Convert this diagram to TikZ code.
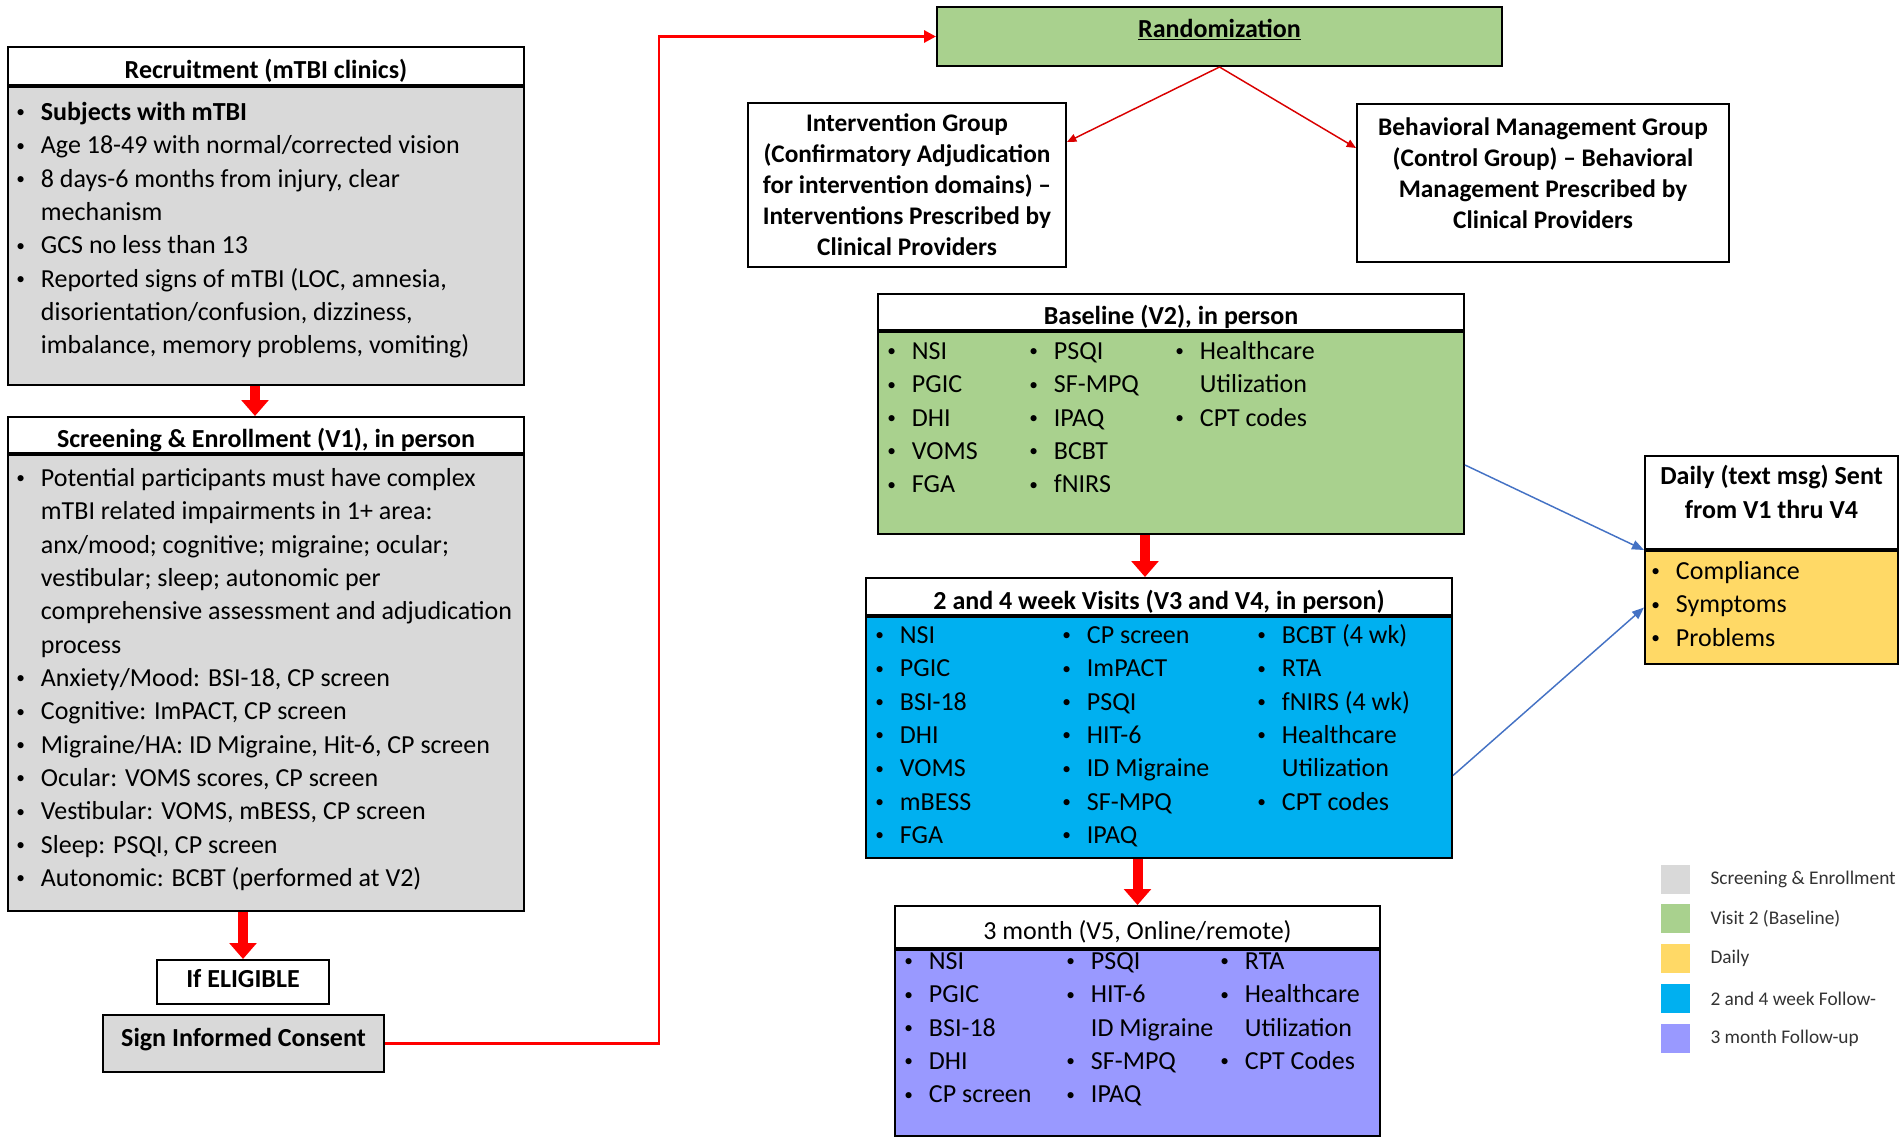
\documentclass[tikz,border=0pt]{standalone}
\usepackage{fontspec}
\setmainfont{Carlito}
\usepackage{xcolor}
\usepackage{tikz}
\usetikzlibrary{arrows.meta, positioning}
\definecolor{grayfill}{HTML}{D9D9D9}
\definecolor{greenfill}{HTML}{A9D18E}
\definecolor{yellowfill}{HTML}{FFD966}
\definecolor{bluefill}{HTML}{00B0F0}
\definecolor{purplefill}{HTML}{9999FF}
\definecolor{linkblue}{HTML}{4472C4}
\newdimen\px \px=0.75pt
\newcommand{\bodyfont}{\fontsize{19.5}{25}\selectfont}
\newcommand{\grpfont}{\fontsize{19}{23.3}\selectfont}
\newcommand{\legfont}{\fontsize{14.5}{17}\selectfont}
\newcommand{\itm}{\makebox[18.5pt][l]{\raisebox{2pt}{\fontsize{13}{13}\selectfont\textbullet}}}
\newcommand{\cnt}{\hspace*{18.5pt}}
\tikzset{
    boxhead/.style={
        rectangle,
        draw=black,
        line width=1.5pt,
        fill=white,
        inner sep=0pt,
        font=\bodyfont\bfseries
    },
    sechead/.style={
        boxhead,
        text height=19pt,
        text depth=0pt
    },
    boxbody/.style={
        rectangle,
        draw=black,
        line width=1.5pt,
        inner sep=0pt
    },
    listtext/.style={
        anchor=north west,
        inner sep=0pt,
        align=left,
        font=\bodyfont
    },
    grpbox/.style={
        rectangle,
        draw=black,
        line width=1.5pt,
        fill=white,
        align=center,
        inner sep=0pt,
        font=\grpfont\bfseries
    },
    legsq/.style={
        rectangle,
        minimum size=29\px,
        inner sep=0pt
    },
    legtext/.style={
        anchor=west,
        inner sep=0pt,
        text=black!80,
        font=\legfont
    },
    bigred/.style={
        draw=red,
        line width=7.5pt,
        -{Triangle[length=12pt,width=20pt]}
    },
    thinred/.style={
        draw=red!85!black,
        line width=1.1pt,
        -{Triangle[length=7pt,width=6pt]}
    },
    redline/.style={
        draw=red,
        line width=2.2pt,
        -{Triangle[length=9pt,width=9pt]}
    },
    bluearrow/.style={
        draw=linkblue,
        line width=1.1pt,
        -{Triangle[length=9pt,width=7pt]}
    }
}
\begin{document}
\begin{tikzpicture}[x=0.75pt, y=-0.75pt]
\useasboundingbox (0,0) rectangle (1902,1142);

% Recruitment
\node[sechead, minimum width=516\px, minimum height=38\px] (recHead) at (266,66) {Recruitment (mTBI clinics)};
\node[boxbody, fill=grayfill, minimum width=516\px, minimum height=298\px, below=0pt of recHead] (recBody) {};
\node[listtext] (recList) at ([xshift=9\px, yshift=-11\px]recBody.north west) {\strut\itm\textbf{Subjects with mTBI}\\
\itm Age 18-49 with normal/corrected vision\\
\itm 8 days-6 months from injury, clear\\
\cnt mechanism\\
\itm GCS no less than 13\\
\itm Reported signs of mTBI (LOC, amnesia,\\
\cnt disorientation/confusion, dizziness,\\
\cnt imbalance, memory problems, vomiting)};

% Screening & Enrollment
\node[sechead, minimum width=516\px, minimum height=36\px] (scrHead) at (266,435) {Screening \& Enrollment (V1), in person};
\node[boxbody, fill=grayfill, minimum width=516\px, minimum height=456\px, below=0pt of scrHead] (scrBody) {};
\node[listtext] (scrList) at ([xshift=9\px, yshift=-9\px]scrBody.north west) {\strut\itm Potential participants must have complex\\
\cnt mTBI related impairments in 1+ area:\\
\cnt anx/mood; cognitive; migraine; ocular;\\
\cnt vestibular; sleep; autonomic per\\
\cnt comprehensive assessment and adjudication\\
\cnt process\\
\itm Anxiety/Mood: BSI-18, CP screen\\
\itm Cognitive: ImPACT, CP screen\\
\itm Migraine/HA: ID Migraine, Hit-6, CP screen\\
\itm Ocular: VOMS scores, CP screen\\
\itm Vestibular: VOMS, mBESS, CP screen\\
\itm Sleep: PSQI, CP screen\\
\itm Autonomic: BCBT (performed at V2)};

% Eligibility and consent
\node[boxhead, minimum width=172\px, minimum height=44\px, text height=14pt, text depth=6pt] (elig) at (243,982) {If ELIGIBLE};
\node[boxhead, fill=grayfill, minimum width=281\px, minimum height=57\px, text height=14.5pt, text depth=10pt] (consent) at (243.5,1043.5) {Sign Informed Consent};

% Randomization and groups
\node[boxhead, fill=greenfill, minimum width=565\px, minimum height=59\px, text height=14pt, text depth=13pt] (rand) at (1219.5,36.5) {\underline{Randomization}};
\node[grpbox, minimum width=318\px, minimum height=164\px] (intv) at (907,185) {Intervention Group\\(Confirmatory Adjudication\\for intervention domains) --\\Interventions Prescribed by\\Clinical Providers};
\node[grpbox, minimum width=372\px, minimum height=158\px] (ctrl) at (1543,183) {Behavioral Management Group\\(Control Group) -- Behavioral\\Management Prescribed by\\Clinical Providers\\[-9pt]~};

% Baseline (V2)
\node[sechead, minimum width=586\px, minimum height=36\px] (baseHead) at (1171,312) {Baseline (V2), in person};
\node[boxbody, fill=greenfill, minimum width=586\px, minimum height=202\px, below=0pt of baseHead] (baseBody) {};
\node[listtext] (baseColA) at ([xshift=10\px, yshift=-5\px]baseBody.north west) {\strut\itm NSI\\ \itm PGIC\\ \itm DHI\\ \itm VOMS\\ \itm FGA};
\node[listtext] (baseColB) at ([xshift=152\px, yshift=-5\px]baseBody.north west) {\strut\itm PSQI\\ \itm SF-MPQ\\ \itm IPAQ\\ \itm BCBT\\ \itm fNIRS};
\node[listtext] (baseColC) at ([xshift=298\px, yshift=-5\px]baseBody.north west) {\strut\itm Healthcare\\ \cnt Utilization\\ \itm CPT codes};

% 2 and 4 week visits
\node[sechead, minimum width=586\px, minimum height=37\px] (wkHead) at (1159,596.5) {2 and 4 week Visits (V3 and V4, in person)};
\node[boxbody, fill=bluefill, minimum width=586\px, minimum height=241\px, below=0pt of wkHead] (wkBody) {};
\node[listtext] (wkColA) at ([xshift=10\px, yshift=-4\px]wkBody.north west) {\strut\itm NSI\\ \itm PGIC\\ \itm BSI-18\\ \itm DHI\\ \itm VOMS\\ \itm mBESS\\ \itm FGA};
\node[listtext] (wkColB) at ([xshift=197\px, yshift=-4\px]wkBody.north west) {\strut\itm CP screen\\ \itm ImPACT\\ \itm PSQI\\ \itm HIT-6\\ \itm ID Migraine\\ \itm SF-MPQ\\ \itm IPAQ};
\node[listtext] (wkColC) at ([xshift=392\px, yshift=-4\px]wkBody.north west) {\strut\itm BCBT (4 wk)\\ \itm RTA\\ \itm fNIRS (4 wk)\\ \itm Healthcare\\ \cnt Utilization\\ \itm CPT codes};

% 3 month (V5)
\node[sechead, minimum width=485\px, minimum height=42\px, font=\bodyfont] (mHead) at (1137.5,927) {3 month (V5, Online/remote)};
\node[boxbody, fill=purplefill, minimum width=485\px, minimum height=186\px, below=0pt of mHead] (mBody) {};
\node[listtext] (mColA) at ([xshift=10\px, yshift=3\px]mBody.north west) {\strut\itm NSI\\ \itm PGIC\\ \itm BSI-18\\ \itm DHI\\ \itm CP screen};
\node[listtext] (mColB) at ([xshift=172\px, yshift=3\px]mBody.north west) {\strut\itm PSQI\\ \itm HIT-6\\ \cnt ID Migraine\\ \itm SF-MPQ\\ \itm IPAQ};
\node[listtext] (mColC) at ([xshift=326\px, yshift=3\px]mBody.north west) {\strut\itm RTA\\ \itm Healthcare\\ \cnt Utilization\\ \itm CPT Codes};

% Daily text messages
\node[boxhead, minimum width=253\px, minimum height=93\px, align=center] (dayHead) at (1771.5,502.5) {Daily (text msg) Sent\\from V1 thru V4\\[-9pt]~};
\node[boxbody, fill=yellowfill, minimum width=253\px, minimum height=113\px, below=0pt of dayHead] (dayBody) {};
\node[listtext] (dayList) at ([xshift=7\px, yshift=-6\px]dayBody.north west) {\strut\itm Compliance\\ \itm Symptoms\\ \itm Problems};

% Legend
\node[legsq, fill=grayfill] (legGray) at (1675.5,879.5) {};
\node[legsq, fill=greenfill] (legGreen) at (1675.5,918.5) {};
\node[legsq, fill=yellowfill] (legYellow) at (1675.5,958.5) {};
\node[legsq, fill=bluefill] (legBlue) at (1675.5,998.5) {};
\node[legsq, fill=purplefill] (legPurple) at (1675.5,1038.5) {};
\node[legtext, right=20\px of legGray] (legGrayTxt) {Screening \& Enrollment};
\node[legtext, right=20\px of legGreen] (legGreenTxt) {Visit 2 (Baseline)};
\node[legtext, right=20\px of legYellow] (legYellowTxt) {Daily};
\node[legtext, right=20\px of legBlue] (legBlueTxt) {2 and 4 week Follow-};
\node[legtext, right=20\px of legPurple] (legPurpleTxt) {3 month Follow-up};

% Flow arrows
\draw[bigred] ([xshift=-11\px]recBody.south) -- ([xshift=-11\px]scrHead.north);
\draw[bigred] (scrBody.south -| elig.north) -- (elig.north);
\draw[bigred] ([xshift=-26\px]baseBody.south) -- ([xshift=-26\px]baseBody.south |- wkHead.north);
\draw[bigred] (wkBody.south -| mHead.north) -- (mHead.north);
\draw[redline] (consent.east) -- ++(274,0) |- (rand.west);
\draw[thinred] (rand.south) -- ([yshift=43\px]intv.east);
\draw[thinred] (rand.south) -- ([yshift=35\px]ctrl.west);
\draw[bluearrow] ([yshift=-32\px]baseBody.east) -- (dayBody.north west);
\draw[bluearrow] ([yshift=-38\px]wkBody.east) -- (dayBody.west);

\end{tikzpicture}
\end{document}
